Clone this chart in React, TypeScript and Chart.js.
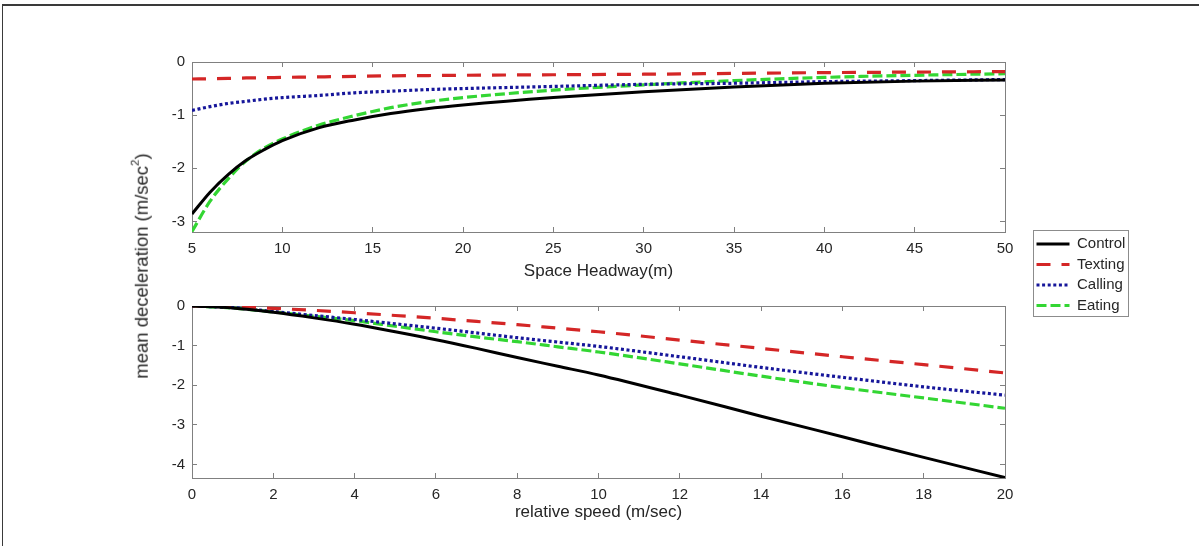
import React, { useEffect, useRef } from 'react';
import { Chart, registerables } from 'chart.js';

Chart.register(...registerables);

const FONT = '"Liberation Sans", Arial, Helvetica, sans-serif';
const TEXT_COLOR = '#262626';
const AXIS_COLOR = '#808080';

// ---- series definitions ----
const seriesNames = ['Control', 'Texting', 'Calling', 'Eating'];
const seriesColors = ['#000000', '#d42626', '#16169a', '#33d633'];
const seriesDashes: number[][] = [[], [14, 11], [3, 2.6], [10, 4]];
const seriesWidths = [3, 3.2, 3.2, 3.2];

// ---- top panel: Space Headway (m) ----
const headwayX = [5, 6, 7, 8, 9, 10, 12, 14, 16, 18, 20, 25, 30, 35, 40, 45, 50];
const headwayControl = [-2.86, -2.45, -2.12, -1.85, -1.65, -1.48, -1.24, -1.09, -0.97, -0.88, -0.81, -0.67, -0.56, -0.47, -0.4, -0.36, -0.34];
const headwayTexting = [-0.32, -0.315, -0.31, -0.3, -0.295, -0.29, -0.28, -0.27, -0.26, -0.255, -0.25, -0.24, -0.23, -0.215, -0.2, -0.19, -0.18];
const headwayCalling = [-0.91, -0.84, -0.78, -0.74, -0.7, -0.67, -0.63, -0.58, -0.55, -0.52, -0.5, -0.46, -0.42, -0.4, -0.37, -0.35, -0.33];
const headwayEating = [-3.19, -2.62, -2.2, -1.86, -1.62, -1.45, -1.19, -1.01, -0.86, -0.75, -0.67, -0.53, -0.43, -0.35, -0.29, -0.25, -0.22];
const headwayXTicks = [5, 10, 15, 20, 25, 30, 35, 40, 45, 50];
const headwayYTicks = [-3, -2, -1, 0];

// ---- bottom panel: relative speed (m/sec) ----
const speedX = [0, 1, 2, 3, 4, 5, 6, 7, 8, 9, 10, 12, 14, 16, 18, 20];
const speedControl = [0, -0.05, -0.16, -0.3, -0.46, -0.65, -0.85, -1.07, -1.3, -1.52, -1.74, -2.25, -2.78, -3.3, -3.82, -4.33];
const speedTexting = [0, -0.02, -0.06, -0.11, -0.17, -0.24, -0.31, -0.39, -0.47, -0.56, -0.65, -0.86, -1.07, -1.28, -1.48, -1.69];
const speedCalling = [0, -0.04, -0.14, -0.24, -0.34, -0.45, -0.56, -0.68, -0.8, -0.91, -1.02, -1.28, -1.55, -1.8, -2.04, -2.25];
const speedEating = [0, -0.05, -0.15, -0.26, -0.37, -0.51, -0.65, -0.78, -0.9, -1.03, -1.16, -1.46, -1.77, -2.06, -2.32, -2.58];
const speedXTicks = [0, 2, 4, 6, 8, 10, 12, 14, 16, 18, 20];
const speedYTicks = [-4, -3, -2, -1, 0];

const headwayTitle = 'Space Headway(m)';
const speedTitle = 'relative speed (m/sec)';

function buildDatasets(xs: number[], series: number[][]) {
  return series.map((ys, i) => ({
    label: seriesNames[i],
    data: xs.map((x, j) => ({ x, y: ys[j] })),
    borderColor: seriesColors[i],
    backgroundColor: seriesColors[i],
    borderDash: seriesDashes[i],
    borderWidth: seriesWidths[i],
    borderCapStyle: 'butt' as const,
    pointRadius: 0,
    pointHoverRadius: 0,
    fill: false,
    cubicInterpolationMode: 'monotone' as const,
  }));
}

type AxisCfg = {
  xMin: number; xMax: number; xTicks: number[];
  yMin: number; yMax: number; yTicks: number[];
  title: string; titlePadBottom: number;
  topH: number; bottomH: number; leftW: number; rightW: number;
};

function buildScales(c: AxisCfg) {
  const tickFont = { family: FONT, size: 15 };
  const setTicks = (vals: number[]) => (scale: any) => {
    scale.ticks = vals.map((v) => ({ value: v }));
  };
  const grid = { drawOnChartArea: false, tickLength: -5, color: AXIS_COLOR, lineWidth: 1 };
  const border = { color: AXIS_COLOR, width: 1 };
  return {
    x: {
      type: 'linear', position: 'bottom', min: c.xMin, max: c.xMax,
      afterBuildTicks: setTicks(c.xTicks),
      ticks: { color: TEXT_COLOR, font: tickFont, padding: 13, maxRotation: 0, autoSkip: false, callback: (v: any) => String(v) },
      grid, border,
      title: { display: true, text: c.title, color: TEXT_COLOR, font: { family: FONT, size: 17 }, padding: { top: 0, bottom: c.titlePadBottom } },
      afterFit: (s: any) => { s.height = c.bottomH; },
    },
    xTop: {
      type: 'linear', position: 'top', min: c.xMin, max: c.xMax,
      afterBuildTicks: setTicks(c.xTicks),
      ticks: { display: false },
      grid, border,
      afterFit: (s: any) => { s.height = c.topH; },
    },
    y: {
      type: 'linear', position: 'left', min: c.yMin, max: c.yMax,
      afterBuildTicks: setTicks(c.yTicks),
      ticks: { color: TEXT_COLOR, font: tickFont, padding: 12, autoSkip: false, callback: (v: any) => String(v) },
      grid, border,
      afterFit: (s: any) => { s.width = c.leftW; },
    },
    yRight: {
      type: 'linear', position: 'right', min: c.yMin, max: c.yMax,
      afterBuildTicks: setTicks(c.yTicks),
      ticks: { display: false },
      grid, border,
      afterFit: (s: any) => { s.width = c.rightW; },
    },
  };
}

function baseOptions(scales: any) {
  return {
    responsive: false,
    animation: false as const,
    devicePixelRatio: 1,
    events: [] as any[],
    layout: { padding: 0 },
    scales,
    plugins: { legend: { display: false }, tooltip: { enabled: false } },
  };
}

export default function App() {
  const topRef = useRef<HTMLCanvasElement>(null);
  const bottomRef = useRef<HTMLCanvasElement>(null);
  const legendRef = useRef<HTMLCanvasElement>(null);

  useEffect(() => {
    const charts: Chart[] = [];
    if (topRef.current) {
      charts.push(new Chart(topRef.current, {
        type: 'line',
        data: { datasets: buildDatasets(headwayX, [headwayControl, headwayTexting, headwayCalling, headwayEating]) as any },
        options: baseOptions(buildScales({
          xMin: 5, xMax: 50, xTicks: headwayXTicks,
          yMin: -3.2, yMax: 0, yTicks: headwayYTicks,
          title: headwayTitle, titlePadBottom: 18,
          topH: 62, bottomH: 68, leftW: 192, rightW: 194,
        })) as any,
      }));
    }
    if (bottomRef.current) {
      charts.push(new Chart(bottomRef.current, {
        type: 'line',
        data: { datasets: buildDatasets(speedX, [speedControl, speedTexting, speedCalling, speedEating]) as any },
        options: baseOptions(buildScales({
          xMin: 0, xMax: 20, xTicks: speedXTicks,
          yMin: -4.34, yMax: 0, yTicks: speedYTicks,
          title: speedTitle, titlePadBottom: 23,
          topH: 26, bottomH: 68, leftW: 192, rightW: 194,
        })) as any,
      }));
    }
    if (legendRef.current) {
      charts.push(new Chart(legendRef.current, {
        type: 'line',
        data: { datasets: buildDatasets([], [[], [], [], []]) as any },
        options: {
          responsive: false,
          animation: false,
          devicePixelRatio: 1,
          events: [],
          layout: { padding: 0 },
          scales: { x: { display: false }, y: { display: false } },
          plugins: {
            tooltip: { enabled: false },
            legend: {
              display: true,
              position: 'top',
              align: 'start',
              labels: {
                usePointStyle: true,
                pointStyle: 'line',
                pointStyleWidth: 33,
                padding: 5.5,
                color: TEXT_COLOR,
                font: { family: FONT, size: 15 },
                generateLabels: (chart: any) =>
                  chart.data.datasets.map((ds: any, i: number) => ({
                    text: ds.label,
                    datasetIndex: i,
                    hidden: false,
                    fillStyle: ds.borderColor,
                    strokeStyle: ds.borderColor,
                    lineWidth: ds.borderWidth,
                    lineDash: ds.borderDash,
                    lineCap: 'butt',
                    pointStyle: 'line',
                    fontColor: TEXT_COLOR,
                  })),
              },
            },
          },
        } as any,
      }));
    }
    return () => charts.forEach((c) => c.destroy());
  }, []);

  return (
    <div style={{ position: 'absolute', left: 0, top: 0, width: 1199, height: 546, overflow: 'hidden', background: '#ffffff' }}>
      <div style={{ position: 'absolute', left: 2, top: 4, right: 0, bottom: 0, borderTop: '2px solid #3a3a3a', borderLeft: '1px solid #3a3a3a' }} />
      <canvas ref={topRef} width={1199} height={300} style={{ position: 'absolute', left: 0, top: 0, width: 1199, height: 300 }} />
      <canvas ref={bottomRef} width={1199} height={266} style={{ position: 'absolute', left: 0, top: 280, width: 1199, height: 266 }} />
      <div
        style={{
          position: 'absolute', left: 142, top: 266,
          transform: 'translate(-50%, -50%) rotate(-90deg)',
          whiteSpace: 'nowrap', fontFamily: FONT, fontSize: 18.5, lineHeight: 1, color: TEXT_COLOR,
        }}
      >
        mean deceleration (m/sec<sup style={{ fontSize: '0.62em', verticalAlign: 'top', position: 'relative', top: -3 }}>2</sup>)
      </div>
      <div style={{ position: 'absolute', left: 1033, top: 230, width: 96, height: 87, boxSizing: 'border-box', border: '1px solid #8c8c8c', background: '#ffffff' }} />
      <canvas ref={legendRef} width={110} height={200} style={{ position: 'absolute', left: 1031, top: 231, width: 110, height: 200 }} />
    </div>
  );
}
